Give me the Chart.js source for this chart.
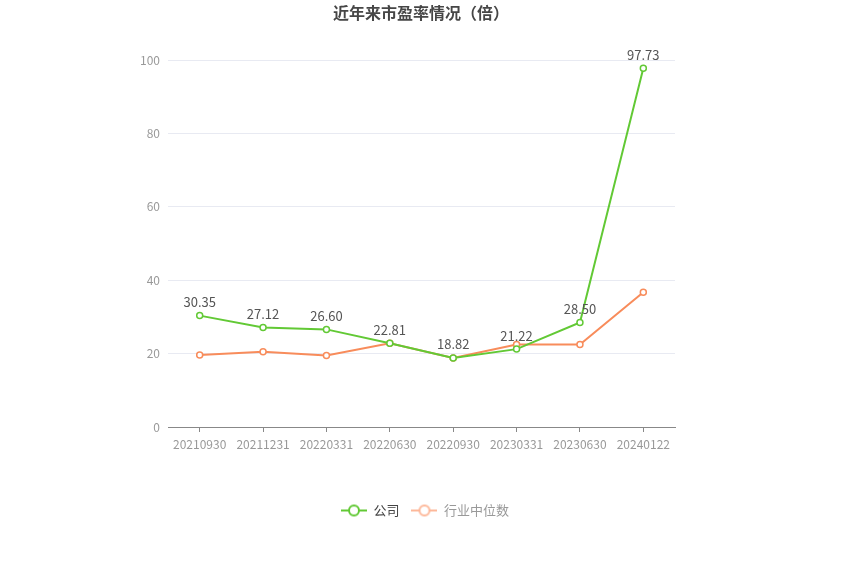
<!DOCTYPE html>
<html><head><meta charset="utf-8">
<script src="https://cdn.jsdelivr.net/npm/chart.js@4/dist/chart.umd.min.js"></script>
<style>html,body{margin:0;padding:0;background:#fff;}canvas{display:block;}</style>
</head><body>
<canvas id="c" width="850" height="574"></canvas>
<script>
const categories = ['20210930','20211231','20220331','20220630','20220930','20230331','20230630','20240122'];
const companyPE = [30.35, 27.12, 26.60, 22.81, 18.82, 21.22, 28.50, 97.73];
const industryPE = [19.6, 20.5, 19.5, 22.8, 18.8, 22.5, 22.5, 36.7];
const yTicks = [0, 20, 40, 60, 80, 100];
const seriesNames = ['公司', '行业中位数'];

const FONT = '"Noto Sans CJK SC","Microsoft YaHei",sans-serif';
const GREEN = '#62c935';
const ORANGE = '#f88c5b';

function legendIcon(color) {
  const c = document.createElement('canvas');
  c.width = 26; c.height = 14;
  const g = c.getContext('2d');
  g.strokeStyle = color; g.lineWidth = 2;
  g.beginPath(); g.moveTo(0, 7); g.lineTo(26, 7); g.stroke();
  g.fillStyle = '#fff';
  g.beginPath(); g.arc(13, 7, 5, 0, Math.PI * 2); g.fill(); g.stroke();
  return c;
}

const titlePlugin = {
  id: 'titleP',
  afterDraw(chart) {
    const ctx = chart.ctx;
    ctx.save();
    ctx.font = 'bold 16px ' + FONT;
    ctx.fillStyle = '#464646';
    ctx.textAlign = 'center';
    ctx.textBaseline = 'middle';
    ctx.fillText('近年来市盈率情况（倍）', 421, 13);
    ctx.restore();
  }
};

const labelPlugin = {
  id: 'labelsP',
  afterDatasetsDraw(chart) {
    const ctx = chart.ctx;
    const meta = chart.getDatasetMeta(0);
    ctx.save();
    ctx.font = '13px ' + FONT;
    ctx.fillStyle = '#555';
    ctx.textAlign = 'center';
    ctx.textBaseline = 'bottom';
    meta.data.forEach((pt, i) => {
      ctx.fillText(companyPE[i].toFixed(2), pt.x, pt.y - 7);
    });
    ctx.restore();
  }
};

new Chart(document.getElementById('c'), {
  type: 'line',
  data: {
    labels: categories,
    datasets: [
      { label: seriesNames[0], data: companyPE, borderColor: GREEN, backgroundColor: '#fff',
        borderWidth: 2, pointRadius: 3, pointBorderWidth: 1.5, pointBackgroundColor: '#fff', pointBorderColor: GREEN, tension: 0 },
      { label: seriesNames[1], data: industryPE, borderColor: ORANGE, backgroundColor: '#fff',
        borderWidth: 2, pointRadius: 3, pointBorderWidth: 1.5, pointBackgroundColor: '#fff', pointBorderColor: ORANGE, tension: 0 }
    ]
  },
  options: {
    responsive: false,
    animation: false,
    layout: { padding: { left: 0, right: 0, top: 60, bottom: 47 } },
    plugins: {
      title: { display: false },
      tooltip: { enabled: false },
      legend: {
        position: 'bottom',
        labels: {
          usePointStyle: true,
          pointStyleWidth: 26,
          padding: 12,
          font: { size: 13, family: FONT },
          generateLabels(chart) {
            return [
              { text: seriesNames[0], pointStyle: legendIcon(GREEN), fontColor: '#444', datasetIndex: 0, hidden: false, lineWidth: 0, strokeStyle: GREEN, fillStyle: '#fff' },
              { text: seriesNames[1], pointStyle: legendIcon('#fdb89a'), fontColor: '#999', datasetIndex: 1, hidden: false, lineWidth: 0, strokeStyle: ORANGE, fillStyle: '#fff' }
            ];
          }
        }
      }
    },
    scales: {
      x: {
        offset: true,
        afterFit(scale) { scale.height = 65; },
        grid: { display: true, drawOnChartArea: false, offset: false, tickLength: 5, color: '#888' },
        border: { color: '#888' },
        ticks: { color: '#999', font: { size: 12, family: FONT }, padding: 5, maxRotation: 0, autoSkip: false }
      },
      y: {
        min: 0, max: 100,
        afterBuildTicks(scale) { scale.ticks = yTicks.map(v => ({ value: v })); },
        afterFit(scale) { scale.width = 168; },
        grid: { color: '#e8eaf2', drawTicks: false },
        border: { display: false },
        ticks: { color: '#999', font: { size: 12, family: FONT }, padding: 8 }
      },
      yRight: {
        position: 'right',
        min: 0, max: 100,
        afterFit(scale) { scale.width = 175; },
        grid: { display: false, drawOnChartArea: false },
        border: { display: false },
        ticks: { display: false }
      }
    }
  },
  plugins: [titlePlugin, labelPlugin]
});
</script>
</body></html>
